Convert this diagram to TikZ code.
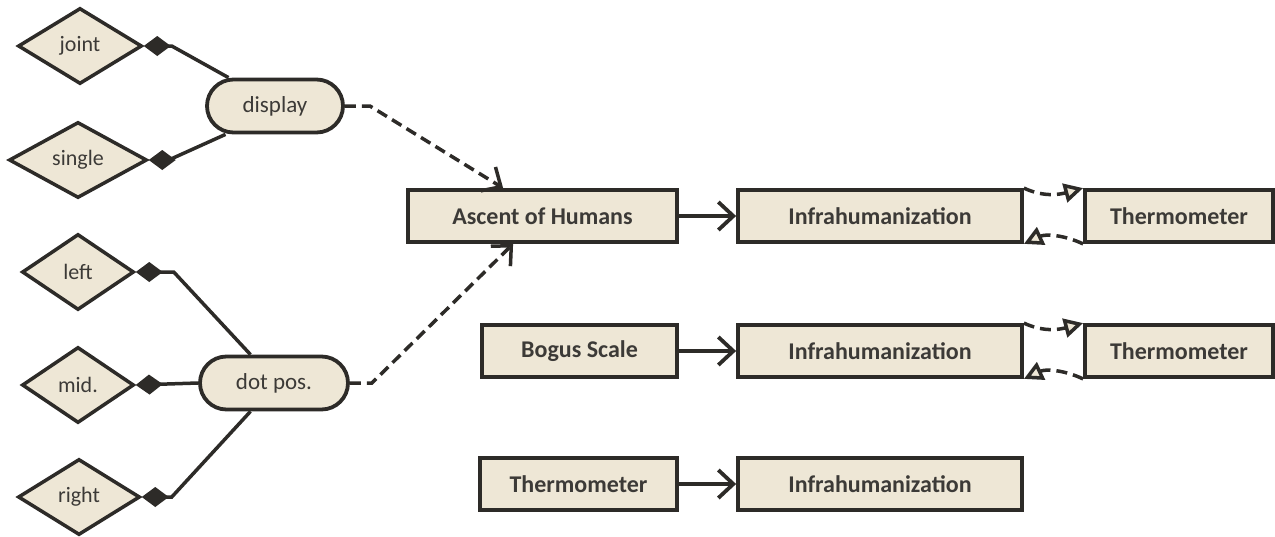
\documentclass[tikz,border=0pt]{standalone}
\usepackage{fontspec}
\setmainfont{Carlito}
\usetikzlibrary{arrows.meta,shapes.geometric,shapes.misc,calc}
\definecolor{beige}{RGB}{238,231,214}
\definecolor{ink}{RGB}{45,43,40}
\definecolor{txt}{RGB}{60,58,55}
\tikzset{
  rbox/.style={rectangle, draw=ink, line width=3.8pt, fill=beige, minimum height=52pt, text=txt, font=\fontsize{24}{28}\selectfont\bfseries, inner sep=0pt},
  dia/.style={diamond, draw=ink, line width=3.5pt, fill=beige, minimum width=124pt, minimum height=76pt, inner sep=0pt, text=txt, font=\fontsize{22}{26}\selectfont},
  pill/.style={rounded rectangle, draw=ink, line width=3.8pt, fill=beige, minimum height=53pt, text=txt, font=\fontsize{23}{27}\selectfont, inner sep=0pt},
  link/.style={draw=ink, line width=3.5pt, {Diamond[length=27pt,width=20pt]}-},
  dlink/.style={draw=ink, line width=3.5pt, dash pattern=on 11pt off 6pt, -{Straight Barb[length=15pt,width=28pt]}},
  solid arrow/.style={draw=ink, line width=3.8pt, -{Straight Barb[length=15pt,width=28pt]}},
  loop arrow/.style={draw=ink, line width=3.5pt, dash pattern=on 11pt off 6pt, -{Triangle[length=19pt,width=19pt,fill=beige]}},
}
\begin{document}
\begin{tikzpicture}[x=1pt,y=-1pt]
\useasboundingbox (0,0) rectangle (1275,536);
% diamonds
\node[dia] (joint) at (80,46) {joint};
\node[dia, minimum width=138pt] (single) at (78,160) {single};
\node[dia, minimum width=112pt] (left) at (78,272) {left};
\node[dia, minimum width=112pt] (mid) at (78,385) {mid.};
\node[dia, minimum width=122pt] (right) at (79,497) {right};
% pills
\node[pill, minimum width=136pt] (display) at (275,106) {display};
\node[pill, minimum width=148pt] (dotpos) at (274,383) {dot pos.};
% boxes
\node[rbox, minimum width=269pt] (asc) at (542.5,216) {Ascent of Humans};
\node[rbox, minimum width=284pt] (inf1) at (880,216) {Infrahumanization};
\node[rbox, minimum width=188pt] (th1) at (1179,216) {Thermometer};
\node[rbox, minimum width=195pt] (bog) at (579.5,351) {Bogus Scale};
\node[rbox, minimum width=284pt] (inf2) at (880,351) {Infrahumanization};
\node[rbox, minimum width=188pt] (th2) at (1179,351) {Thermometer};
\node[rbox, minimum width=197pt] (th3) at (578.5,484) {Thermometer};
\node[rbox, minimum width=284pt] (inf3) at (880,484) {Infrahumanization};
% diamond links
\draw[link] (joint.east) -- ++(28,0) -- ($(display.north west)+(-5,0)$);
\draw[link] (single.east) -- ++(20,0) -- ($(display.south west)+(-8,0)$);
\draw[link] (left.east) -- ++(38,0) -- ($(dotpos.north west)+(24,0)$);
\draw[link] (mid.east) -- (dotpos.west);
\draw[link] (right.east) -- ++(30,0) -- ($(dotpos.south west)+(24,0)$);
% dashed to ascent
\draw[dlink] (display.east) -- ++(25,0) -- ($(asc.north west)+(97,0)$);
\draw[dlink] (dotpos.east) -- ++(22,0) -- ($(asc.south west)+(107,0)$);
% solid arrows
\draw[solid arrow] (asc) -- (inf1);
\draw[solid arrow] (bog) -- (inf2);
\draw[solid arrow] (th3) -- (inf3);
% loops
\draw[loop arrow] (inf1.north east) to[out=-25,in=195] (th1.north west);
\draw[loop arrow] (th1.south west) to[out=155,in=25] (inf1.south east);
\draw[loop arrow] (inf2.north east) to[out=-25,in=195] (th2.north west);
\draw[loop arrow] (th2.south west) to[out=155,in=25] (inf2.south east);
\end{tikzpicture}
\end{document}
